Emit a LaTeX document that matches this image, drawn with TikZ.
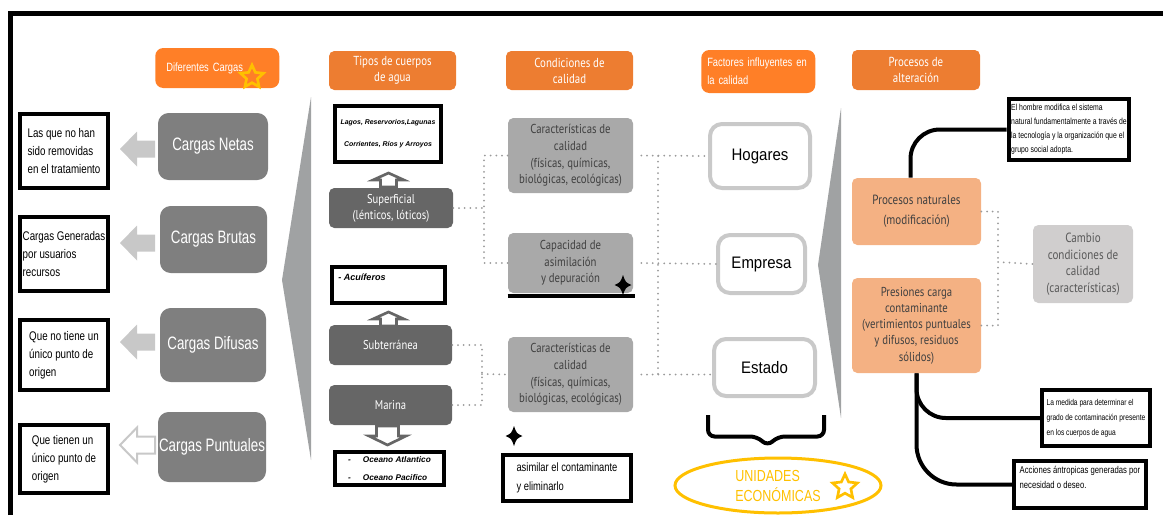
\documentclass[tikz,border=0pt]{standalone}
\usepackage{fontspec}
\setmainfont{Liberation Sans}
\newfontfamily\arialn[FakeStretch=0.78]{Liberation Sans}
\newfontfamily\arialc[FakeStretch=0.74]{Liberation Sans}
\newfontfamily\arialm[FakeStretch=0.9]{Liberation Sans}
\newfontfamily\myr[FakeStretch=0.83]{PT Sans}
\usetikzlibrary{shapes.geometric,calc}
\definecolor{ora}{HTML}{ED7D31}
\definecolor{orb}{HTML}{FF7F27}
\definecolor{cg}{HTML}{7F7F7F}
\definecolor{tg}{HTML}{666666}
\definecolor{lg}{HTML}{A9A9A9}
\definecolor{arw}{HTML}{C8C8C8}
\definecolor{wedge}{HTML}{A0A2A3}
\definecolor{sal}{HTML}{F4B183}
\definecolor{camb}{HTML}{D0CECE}
\definecolor{yel}{HTML}{FFC000}
\definecolor{dtx}{HTML}{404040}
\definecolor{dotc}{HTML}{9A9A9A}
\definecolor{hb}{HTML}{C9C9C9}
\definecolor{ctx}{HTML}{595959}
\def\pu{0.75pt}
\tikzset{
  sz/.style 2 args={minimum width=#1*\pu, minimum height=#2*\pu},
  hdr/.style={fill=ora, rounded corners=4pt, text=white, align=center, inner sep=0pt,
    font=\myr\fontsize{9.8}{12}\selectfont},
  hdrb/.style={fill=orb, rounded corners=6pt, text=white, align=left, inner ysep=0pt,
    font=\arialn\fontsize{9}{13.5}\selectfont},
  carga/.style={fill=cg, rounded corners=8pt, text=white, inner sep=0pt,
    font=\arialc\fontsize{13.5}{16}\selectfont},
  note/.style={draw=black, line width=3pt, fill=white, align=left, inner sep=2pt,
    font=\arialn\fontsize{9.4}{13.5}\selectfont},
  tipo/.style={fill=tg, rounded corners=4pt, text=white, align=center, inner sep=0pt,
    font=\myr\fontsize{9.6}{12}\selectfont},
  cond/.style={fill=lg, rounded corners=4pt, text=dtx, align=center, inner sep=0pt,
    font=\myr\fontsize{9.7}{12.5}\selectfont},
  fac/.style={draw=hb, line width=3pt, fill=white, rounded corners=9pt, inner sep=0pt,
    font=\arialm\fontsize{12.5}{15}\selectfont},
  proc/.style={fill=sal, rounded corners=4pt, text=dtx, align=center, inner sep=0pt,
    font=\myr\fontsize{9.7}{12.2}\selectfont},
  tiny/.style={font=\fontsize{5.2}{16.5}\selectfont\bfseries\itshape},
  dot/.style={dotc, line width=1.5pt, dash pattern=on 0pt off 4.3pt, line cap=round},
  blk/.style={black, line width=3pt},
  ystar/.style={star, star points=5, star point ratio=2.1, draw=yel, line width=2pt,
    minimum size=24*\pu, inner sep=0pt},
  larr/.pic={\path[pic actions] (18,-8.5) -- (0,-8.5) -- (0,-17.5) -- (-17,0) -- (0,17.5) -- (0,8.5) -- (18,8.5) -- cycle;},
  uarr/.pic={\path[pic actions] (-8,7) -- (-8,0) -- (-15.5,0) -- (0,-7) -- (15.5,0) -- (8,0) -- (8,7) -- cycle;},
  darr/.pic={\path[pic actions] (-11,0) -- (-11,10) -- (-18.5,10) -- (0,19) -- (18.5,10) -- (11,10) -- (11,0) -- cycle;},
  spark/.pic={\fill[black] (0,-10) .. controls (2.6,-2.6) .. (8.5,0) .. controls (2.6,2.6) .. (0,10) .. controls (-2.6,2.6) .. (-8.5,0) .. controls (-2.6,-2.6) .. (0,-10) -- cycle;}
}
\begin{document}
\begin{tikzpicture}[x=0.75pt,y=-0.75pt]
\useasboundingbox (0,0) rectangle (1168,515);
% frame
\draw[line width=3.75pt] (10,515) -- (10,13) -- (1163,13);
% wedges
\fill[wedge] (311,97) -- (282,280) -- (311,460) -- cycle;
\fill[wedge] (841,108) -- (818,265) -- (841,418) -- cycle;

% headers
\node[hdrb, minimum height=40*\pu, text width=102*\pu, inner xsep=11*\pu, anchor=west] (hdif) at (155,68) {Diferentes Cargas};
\node[ystar] (st1) at (252,77) {};
\node[hdr, sz={127}{39}] (htip) at (392.5,70.5) {Tipos de cuerpos\\de agua};
\node[hdr, sz={127}{39}] (hcon) at (569.5,70.5) {Condiciones de\\calidad};
\node[hdrb, minimum height=43*\pu, text width=102*\pu, inner xsep=6*\pu, anchor=west] (hfac) at (701,71.5) {Factores influyentes en\\la calidad};
\node[hdr, sz={128}{40}] (hpro) at (916,70) {Procesos de\\alteración};

% cargas
\node[carga, sz={110}{67}] (cn) at (213,146.5) {Cargas Netas};
\node[carga, sz={107}{67}] (cb) at (213.5,239.5) {Cargas Brutas};
\node[carga, sz={106}{74}] (cd) at (213,345) {Cargas Difusas};
\node[carga, sz={108}{70}] (cp) at (212,447) {Cargas Puntuales};
\node[note, sz={88}{74}] (n1) at (64,151) {Las que no han\\sido removidas\\en el tratamiento};
\node[note, sz={88}{74}] (n2) at (64,254) {Cargas Generadas\\por usuarios\\recursos};
\node[note, sz={88}{70}] (n3) at (64,355) {Que no tiene un\\único punto de\\origen};
\node[note, sz={88}{68}] (n4) at (64,459) {Que tienen un\\único punto de\\origen};
\pic[fill=arw] at (137,149) {larr};
\pic[fill=arw] at (137,243) {larr};
\pic[fill=arw] at (137,342) {larr};
\pic[draw=arw, line width=1.5pt, fill=white] at (137,445) {larr};

% tipos
\node[note, tiny, align=center, sz={106}{56}] (lag) at (388,134) {Lagos, Reservorios,Lagunas\\Corrientes, Ríos y Arroyos};
\pic[draw=tg, line width=2pt, fill=white] at (388.5,180) {uarr};
\node[tipo, sz={124}{40}] (sup) at (391,208) {Superficial\\(lénticos, lóticos)};
\node[note, sz={113}{36}, label={[anchor=north west, inner sep=0pt, xshift=8*\pu, yshift=-9*\pu, font=\fontsize{6.8}{8}\selectfont\bfseries\itshape]north west:- Acuíferos}] (acu) at (388.5,285) {};
\pic[draw=tg, line width=2pt, fill=white] at (388.5,319) {uarr};
\node[tipo, sz={123}{40}] (sub) at (390.5,345) {Subterránea};
\node[tipo, sz={123}{40}] (mar) at (390.5,405) {Marina};
\pic[draw=tg, line width=2pt, fill=white] at (387.5,426) {darr};
\node[note, sz={109}{33}, font=\fontsize{6.2}{13.5}\selectfont\bfseries\itshape] (oce) at (389.5,468.5) {-\hspace{9pt}Oceano Atlantico\\-\hspace{9pt}Oceano Pacifico};

% condiciones
\node[cond, sz={125}{75}] (car1) at (570.5,155.5) {Características de\\calidad\\(físicas, químicas,\\biológicas, ecológicas)};
\node[cond, sz={125}{60}] (cap) at (570.5,263) {Capacidad de\\asimilación\\y depuración};
\draw[blk, line width=3pt] ([yshift=-2.5*\pu]cap.south west) -- ([yshift=-2.5*\pu,xshift=2*\pu]cap.south east);
\pic at (623,285) {spark};
\node[cond, sz={125}{75}] (car2) at (570.5,374.5) {Características de\\calidad\\(físicas, químicas,\\biológicas, ecológicas)};
\pic at (514,436) {spark};
\node[note, sz={128}{46}, font=\arialn\fontsize{9}{14.25}\selectfont] (asi) at (567,478) {asimilar el contaminante\\y eliminarlo};

% factores
\node[fac, sz={100}{64}] (hog) at (760,156) {Hogares};
\node[fac, sz={87}{58}] (emp) at (761.5,264) {Empresa};
\node[fac, sz={101}{57}] (est) at (764.5,367.5) {Estado};
\draw[blk, rounded corners=5pt] (708,415) -- (708,436.5) -- (757,436.5) -- (767.5,446) -- (778,436.5) -- (824,436.5) -- (824,415);
\node[ellipse, draw=yel, line width=2.25pt, sz={206}{55}, text=yel, align=left, inner sep=0pt,
  font=\arialn\fontsize{12}{15}\selectfont] (ue) at (778,485.5) {UNIDADES\\ECONÓMICAS};
\node[ystar, minimum size=26*\pu] (st2) at (845,487) {};

% procesos
\node[proc, sz={129}{67}, font=\myr\fontsize{10}{15}\selectfont] (pn) at (916.5,211.5) {Procesos naturales\\(modificación)};
\node[proc, sz={129}{95}] (pc) at (916.5,325.5) {Presiones carga\\contaminante\\(vertimientos puntuales\\y difusos, residuos\\sólidos)};
\node[cond, fill=camb, text=ctx, sz={100}{78}, font=\myr\fontsize{10}{12.4}\selectfont] (cam) at (1083,264) {Cambio\\condiciones de\\calidad\\(características)};
\node[note, sz={118}{61}, font=\arialn\fontsize{6.6}{10.5}\selectfont] (eh) at (1069,129.5) {El hombre modifica el sistema\\natural fundamentalmente a través de\\la tecnología y la organización que el\\grupo social adopta.};
\node[note, sz={108}{56}, font=\arialn\fontsize{6.4}{11.25}\selectfont] (lm) at (1096,418) {La medida para determinar el\\grado de contaminación presente\\en los cuerpos de agua};
\node[note, sz={132}{47}, font=\arialn\fontsize{7.4}{11.25}\selectfont] (ac) at (1080,484.5) {Acciones ántropicas generadas por\\necesidad o deseo.\\\mbox{}};

% black connectors
\draw[blk, rounded corners=22pt] ([xshift=-6*\pu]pn.north) |- (eh.west);
\draw[blk, rounded corners=22pt] (pc.south) |- (lm.west);
\draw[blk, rounded corners=30pt] (pc.south) |- (ac.west);

% dotted connectors
\coordinate (bL1) at (484,208);
\coordinate (bL2) at (482,374);
\coordinate (bR) at (998,262);
\draw[dot] (car1.west) -| (bL1) |- (cap.west);
\draw[dot] (sup.east) -- (bL1);
\draw[dot] (sub.east) -| (bL2);
\draw[dot] (mar.east) -| (bL2);
\draw[dot] (bL2) -- (car2.west);
\draw[dot] ([xshift=8*\pu]car1.east) -- (hog.west);
\draw[dot] ([xshift=8*\pu]cap.east) -- (emp.west);
\draw[dot] ([xshift=8*\pu]car2.east) -- (car2.east -| est.west);
\draw[dot] (hog.west -| 658,0) -- (car2.east -| 658,0);
\draw[dot] (pn.east) -| (bR);
\draw[dot] (pc.east) -| (bR);
\draw[dot] (bR) -- (cam.west);
\end{tikzpicture}
\end{document}
